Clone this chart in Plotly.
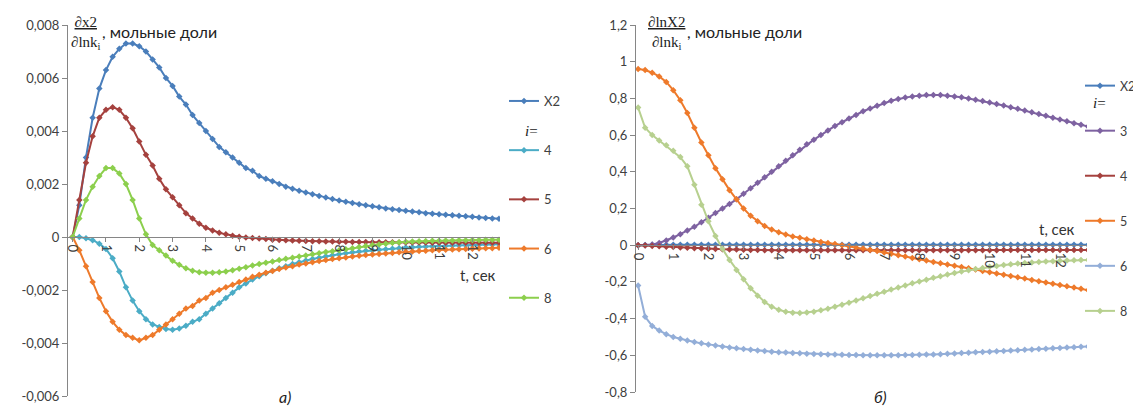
import plotly.graph_objects as go

# time grid (s), one point every 0.2 s
T = [round(0.2 * i, 1) for i in range(65)]

# ---------- panel а): d x2 / d ln k_i ----------
A_X2 = [0, 0.0012, 0.0030, 0.0045, 0.0056, 0.0063, 0.0068, 0.0071, 0.0073, 0.0073,
        0.0072, 0.0070, 0.0067, 0.0064, 0.0060, 0.0057, 0.0053, 0.0050, 0.0046, 0.0043,
        0.0040, 0.0037, 0.0034, 0.0032, 0.0030, 0.0028, 0.0026, 0.0025, 0.0023, 0.0022,
        0.0021, 0.0020, 0.0019, 0.00182, 0.00175, 0.00168, 0.00161, 0.00155, 0.00149, 0.00143,
        0.00138, 0.00133, 0.00128, 0.00124, 0.00120, 0.00116, 0.00112, 0.00108, 0.00105, 0.00102,
        0.00099, 0.00096, 0.00093, 0.00090, 0.00088, 0.00086, 0.00084, 0.00082, 0.00080, 0.00078,
        0.00076, 0.00074, 0.00072, 0.00070, 0.00069]
A_K4 = [0, 0, -0.00005, -0.00012, -0.00025, -0.00045, -0.0008, -0.0013, -0.0019, -0.0024,
        -0.0028, -0.0031, -0.0033, -0.0034, -0.00347, -0.0035, -0.00345, -0.00335, -0.0032, -0.0031,
        -0.0029, -0.0027, -0.0025, -0.0023, -0.0021, -0.0019, -0.00175, -0.0016, -0.00148, -0.00137,
        -0.00127, -0.00118, -0.0011, -0.00102, -0.00095, -0.00089, -0.00083, -0.00078, -0.00073, -0.00069,
        -0.00065, -0.00061, -0.00058, -0.00055, -0.00052, -0.0005, -0.00048, -0.00046, -0.00044, -0.00042,
        -0.0004, -0.00039, -0.00037, -0.00036, -0.00035, -0.00034, -0.00033, -0.00032, -0.00031, -0.0003,
        -0.0003, -0.00029, -0.00028, -0.00028, -0.00027]
A_K5 = [0, 0.0014, 0.0028, 0.0038, 0.0045, 0.0048, 0.0049, 0.0048, 0.0045, 0.0041,
        0.0036, 0.0031, 0.0027, 0.0022, 0.0018, 0.0015, 0.0012, 0.0009, 0.0007, 0.0005,
        0.00035, 0.00025, 0.00016, 0.0001, 0.00005, 0.00001, -0.00002, -0.00004, -0.00006, -0.00008,
        -0.0001, -0.00011, -0.00012, -0.00013, -0.00014, -0.00015, -0.00016, -0.00016, -0.00017, -0.00017,
        -0.00018, -0.00018, -0.00019, -0.00019, -0.00019, -0.0002, -0.0002, -0.0002, -0.0002, -0.00021,
        -0.00021, -0.00021, -0.00021, -0.00021, -0.00022, -0.00022, -0.00022, -0.00022, -0.00022, -0.00022,
        -0.00022, -0.00022, -0.00022, -0.00022, -0.00022]
A_K6 = [0, -0.0005, -0.0011, -0.0017, -0.0023, -0.0028, -0.0032, -0.0035, -0.0037, -0.0038,
        -0.0039, -0.0038, -0.0037, -0.0035, -0.0033, -0.0031, -0.0029, -0.0027, -0.0026, -0.0024,
        -0.0023, -0.0021, -0.0020, -0.0019, -0.0018, -0.0017, -0.0016, -0.0015, -0.00142, -0.00135,
        -0.00128, -0.00121, -0.00115, -0.0011, -0.00104, -0.0010, -0.00095, -0.00091, -0.00087, -0.00083,
        -0.0008, -0.00077, -0.00074, -0.00071, -0.00068, -0.00066, -0.00064, -0.00062, -0.0006, -0.00058,
        -0.00056, -0.00055, -0.00053, -0.00052, -0.0005, -0.00049, -0.00048, -0.00047, -0.00046, -0.00045,
        -0.00044, -0.00043, -0.00042, -0.00042, -0.00041]
A_K8 = [0, 0.0007, 0.0014, 0.0019, 0.0023, 0.0026, 0.0026, 0.0024, 0.0020, 0.0014,
        0.0007, 0.0001, -0.0003, -0.0005, -0.0007, -0.0009, -0.00105, -0.00118, -0.00127, -0.00133,
        -0.00135, -0.00135, -0.00133, -0.0013, -0.00125, -0.0012, -0.00114, -0.00108, -0.00102, -0.00097,
        -0.00092, -0.00087, -0.00082, -0.00078, -0.00074, -0.0007, -0.00065, -0.00061, -0.00057, -0.00054,
        -0.0005, -0.00046, -0.00042, -0.00038, -0.00034, -0.0003, -0.00028, -0.00025, -0.00022, -0.0002,
        -0.00018, -0.00017, -0.00016, -0.00015, -0.00014, -0.00014, -0.00013, -0.00013, -0.00012, -0.00012,
        -0.00011, -0.00011, -0.0001, -0.0001, -0.0001]

# ---------- panel б): d ln X2 / d ln k_i ----------
B_X2 = [0, 0.001, 0.002, 0.002, 0.002, 0.002, 0.002, 0.002, 0.002, 0.002,
        0.002, 0.002, 0.002, 0.002, 0.002, 0.002, 0.002, 0.002, 0.002, 0.002,
        0.002, 0.002, 0.002, 0.002, 0.002, 0.002, 0.002, 0.002, 0.002, 0.002,
        0.002, 0.002, 0.002, 0.002, 0.002, 0.002, 0.002, 0.002, 0.002, 0.002,
        0.002, 0.002, 0.002, 0.002, 0.002, 0.002, 0.002, 0.002, 0.002, 0.002,
        0.002, 0.002, 0.002, 0.002, 0.002, 0.002, 0.002, 0.002, 0.002, 0.002,
        0.002, 0.002, 0.002, 0.002, 0.002]
B_K3 = [0, 0, 0.004, 0.012, 0.025, 0.042, 0.06, 0.08, 0.10, 0.125,
        0.15, 0.175, 0.20, 0.225, 0.25, 0.28, 0.31, 0.34, 0.37, 0.40,
        0.43, 0.46, 0.49, 0.52, 0.55, 0.575, 0.60, 0.625, 0.65, 0.67,
        0.69, 0.71, 0.73, 0.745, 0.76, 0.775, 0.787, 0.797, 0.805, 0.811,
        0.815, 0.818, 0.819, 0.818, 0.815, 0.811, 0.806, 0.80, 0.793, 0.786,
        0.778, 0.77, 0.761, 0.752, 0.743, 0.734, 0.725, 0.715, 0.705, 0.695,
        0.685, 0.675, 0.665, 0.656, 0.647]
B_K4 = [0, -0.002, -0.004, -0.006, -0.008, -0.01, -0.012, -0.014, -0.016, -0.018,
        -0.02, -0.021, -0.022, -0.023, -0.024, -0.025, -0.026, -0.026, -0.027, -0.027,
        -0.027, -0.027, -0.028, -0.028, -0.028, -0.028, -0.028, -0.028, -0.028, -0.028,
        -0.028, -0.028, -0.028, -0.028, -0.028, -0.028, -0.028, -0.028, -0.028, -0.028,
        -0.027, -0.027, -0.027, -0.027, -0.027, -0.027, -0.027, -0.027, -0.027, -0.027,
        -0.027, -0.027, -0.026, -0.026, -0.026, -0.026, -0.026, -0.026, -0.026, -0.026,
        -0.026, -0.026, -0.026, -0.026, -0.026]
B_K5 = [0.96, 0.955, 0.94, 0.92, 0.89, 0.845, 0.79, 0.72, 0.64, 0.56,
        0.49, 0.42, 0.36, 0.30, 0.25, 0.20, 0.16, 0.13, 0.105, 0.085,
        0.07, 0.058, 0.048, 0.04, 0.032, 0.025, 0.018, 0.012, 0.006, 0.0,
        -0.006, -0.012, -0.018, -0.025, -0.032, -0.04, -0.047, -0.055, -0.062, -0.07,
        -0.077, -0.084, -0.091, -0.098, -0.105, -0.112, -0.119, -0.126, -0.133, -0.14,
        -0.147, -0.154, -0.161, -0.168, -0.175, -0.182, -0.189, -0.196, -0.203, -0.21,
        -0.217, -0.224, -0.231, -0.238, -0.245]
B_K6 = [-0.22, -0.39, -0.44, -0.465, -0.485, -0.50, -0.51, -0.52, -0.528, -0.535,
        -0.541, -0.547, -0.552, -0.557, -0.562, -0.566, -0.57, -0.574, -0.577, -0.58,
        -0.583, -0.585, -0.587, -0.589, -0.591, -0.593, -0.594, -0.595, -0.596, -0.597,
        -0.598, -0.599, -0.6, -0.6, -0.6, -0.6, -0.6, -0.6, -0.599, -0.598,
        -0.597, -0.596, -0.595, -0.594, -0.592, -0.59, -0.588, -0.586, -0.584, -0.582,
        -0.58, -0.578, -0.576, -0.574, -0.572, -0.57, -0.568, -0.566, -0.564, -0.562,
        -0.56, -0.558, -0.556, -0.554, -0.552]
B_K8 = [0.75, 0.64, 0.60, 0.57, 0.545, 0.515, 0.48, 0.43, 0.33, 0.22,
        0.13, 0.05, -0.02, -0.08, -0.135, -0.185, -0.235, -0.275, -0.31, -0.335,
        -0.352, -0.363, -0.368, -0.37, -0.367, -0.362, -0.355, -0.346, -0.336, -0.325,
        -0.313, -0.301, -0.289, -0.277, -0.265, -0.253, -0.241, -0.23, -0.219, -0.208,
        -0.198, -0.188, -0.178, -0.169, -0.16, -0.152, -0.144, -0.137, -0.13, -0.124,
        -0.118, -0.113, -0.108, -0.104, -0.1, -0.097, -0.094, -0.091, -0.089, -0.087,
        -0.085, -0.083, -0.082, -0.081, -0.08]

A_YTICKS = [-0.006, -0.004, -0.002, 0, 0.002, 0.004, 0.006, 0.008]
A_YTEXT = ["-0,006", "-0,004", "-0,002", "0", "0,002", "0,004", "0,006", "0,008"]
B_YTICKS = [-0.8, -0.6, -0.4, -0.2, 0, 0.2, 0.4, 0.6, 0.8, 1.0, 1.2]
B_YTEXT = ["-0,8", "-0,6", "-0,4", "-0,2", "0", "0,2", "0,4", "0,6", "0,8", "1", "1,2"]
X_TICKS = list(range(13))
X_TEXT = [str(v) for v in X_TICKS]

A_SERIES = [("X2", A_X2, "#4A7EBB"), ("4", A_K4, "#4BACC6"), ("5", A_K5, "#A5413E"),
            ("6", A_K6, "#EE7A2B"), ("8", A_K8, "#8CCF4D")]
B_SERIES = [("X2", B_X2, "#4A7EBB"), ("3", B_K3, "#7E62A1"), ("4", B_K4, "#A5413E"),
            ("5", B_K5, "#EE7A2B"), ("6", B_K6, "#93AED8"), ("8", B_K8, "#B7D08F")]

# the page puts the figure 8 px in from the window's top-left corner
W, H, OFF = 1141, 407, 8
FW, FH = W - OFF, H - OFF


def px(x):
    return (x - OFF) / FW


def py(y):
    return 1 - (y - OFF) / FH


fig = go.Figure()
for i, (name, vals, col) in enumerate(A_SERIES):
    fig.add_trace(go.Scatter(x=T, y=vals, name=name, mode="lines+markers",
                             line=dict(color=col, width=2),
                             marker=dict(color=col, size=5, symbol="diamond"),
                             xaxis="x", yaxis="y", legend="legend",
                             legendgroup="a" + str(i)))
for i, (name, vals, col) in enumerate(B_SERIES):
    fig.add_trace(go.Scatter(x=T, y=vals, name=name, mode="lines+markers",
                             line=dict(color=col, width=2),
                             marker=dict(color=col, size=5, symbol="diamond"),
                             xaxis="x2", yaxis="y2", legend="legend2",
                             legendgroup="b" + str(i)))

# plot areas (window pixels)
A_X0, A_X1, A_Y0, A_Y1 = 68, 500, 25, 396
B_X0, B_X1, B_Y0, B_Y1 = 636, 1087, 25, 392
A_YR = [-0.006, 0.008]
B_YR = [-0.8, 1.2]
A_dom = [py(A_Y1), py(A_Y0)]
B_dom = [py(B_Y1), py(B_Y0)]
A_zero = A_dom[0] + (0 - A_YR[0]) / (A_YR[1] - A_YR[0]) * (A_dom[1] - A_dom[0])
B_zero = B_dom[0] + (0 - B_YR[0]) / (B_YR[1] - B_YR[0]) * (B_dom[1] - B_dom[0])

AX = "#868686"
TF = dict(family="Lato, Open Sans, sans-serif", size=13, color="#404040")
TF2 = dict(family="Lato, Open Sans, sans-serif", size=12.5, color="#404040")

xcommon = dict(tickmode="array", tickvals=X_TICKS, ticktext=X_TEXT, tickangle=90,
               showline=True, linecolor=AX, linewidth=1, ticks="outside", ticklen=4,
               tickcolor=AX, showgrid=False, zeroline=False, tickfont=TF, anchor="free",
               automargin=False)
ycommon = dict(tickmode="array", showline=True, linecolor=AX, linewidth=1, ticks="outside",
               ticklen=5, tickcolor=AX, showgrid=False, zeroline=False, tickfont=TF,
               automargin=False)

fig.update_layout(
    width=FW, height=FH, autosize=False,
    margin=dict(l=0, r=0, t=0, b=0, autoexpand=False),
    paper_bgcolor="white", plot_bgcolor="white",
    xaxis=dict(domain=[px(A_X0), px(A_X1)], range=[-0.14, 12.83], position=A_zero, **xcommon),
    yaxis=dict(domain=A_dom, range=A_YR, tickvals=A_YTICKS, ticktext=A_YTEXT, anchor="x", **ycommon),
    xaxis2=dict(domain=[px(B_X0), px(B_X1)], range=[-0.06, 12.77], position=B_zero, **xcommon),
    yaxis2=dict(domain=B_dom, range=B_YR, tickvals=B_YTICKS, ticktext=B_YTEXT, anchor="x2", **ycommon),
    legend=dict(x=px(504), y=py(86), xanchor="left", yanchor="top", tracegroupgap=29.3,
                font=TF, bgcolor="rgba(0,0,0,0)", itemwidth=30),
    legend2=dict(x=px(1080), y=py(71), xanchor="left", yanchor="top", tracegroupgap=25.8,
                 font=TF2, bgcolor="rgba(0,0,0,0)", itemwidth=30),
    showlegend=True,
)

SERIF = dict(family="Liberation Serif, Times New Roman, serif", size=15, color="#222")
SANS = dict(family="Lato, Open Sans, sans-serif", size=16, color="#222")
ann = [
    dict(x=px(86), y=py(33), text="<u>∂x2</u><br>∂lnk<sub>i</sub>", font=SERIF),
    dict(x=px(100), y=py(31), text=", мольные доли", font=SANS, xanchor="left"),
    dict(x=px(666), y=py(33), text="<u>∂lnX2</u><br>∂lnk<sub>i</sub>", font=SERIF),
    dict(x=px(685), y=py(31), text=", мольные доли", font=SANS, xanchor="left"),
    dict(x=px(478), y=py(275), text="t, сек", font=dict(family="Lato, sans-serif", size=15, color="#333")),
    dict(x=px(1057), y=py(229), text="t, сек", font=dict(family="Lato, sans-serif", size=15, color="#333")),
    dict(x=px(531), y=py(131), text="<i>i</i>=", font=SERIF),
    dict(x=px(1099), y=py(103), text="<i>i</i>=", font=SERIF),
    dict(x=px(285), y=py(396), text="<i>а)</i>", font=SANS),
    dict(x=px(880), y=py(396), text="<i>б)</i>", font=SANS),
]
for a in ann:
    a.setdefault("xanchor", "center")
    a.update(xref="paper", yref="paper", showarrow=False, yanchor="middle")
fig.update_layout(annotations=ann)

fig.write_html("out.html")
